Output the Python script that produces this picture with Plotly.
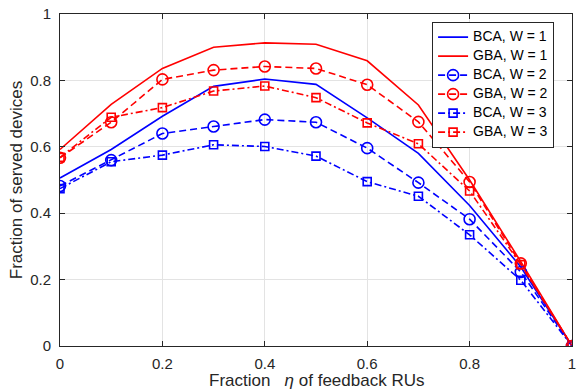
import plotly.graph_objects as go

eta = [0, 0.1, 0.2, 0.3, 0.4, 0.5, 0.6, 0.7, 0.8, 0.9, 1.0]

bca_w1 = [0.506, 0.592, 0.692, 0.782, 0.804, 0.788, 0.687, 0.580, 0.423, 0.238, 0.0]
gba_w1 = [0.592, 0.728, 0.836, 0.900, 0.913, 0.909, 0.859, 0.726, 0.500, 0.254, 0.0]
bca_w2 = [0.482, 0.560, 0.640, 0.661, 0.682, 0.674, 0.596, 0.492, 0.382, 0.223, 0.0]
gba_w2 = [0.567, 0.674, 0.803, 0.831, 0.842, 0.836, 0.787, 0.675, 0.494, 0.249, 0.0]
bca_w3 = [0.474, 0.555, 0.575, 0.606, 0.601, 0.572, 0.495, 0.451, 0.335, 0.198, 0.0]
gba_w3 = [0.568, 0.689, 0.718, 0.768, 0.783, 0.748, 0.672, 0.609, 0.467, 0.245, 0.0]

x_ticks = [0, 0.2, 0.4, 0.6, 0.8, 1]
x_tick_labels = ["0", "0.2", "0.4", "0.6", "0.8", "1"]
y_ticks = [0, 0.2, 0.4, 0.6, 0.8, 1]
y_tick_labels = ["0", "0.2", "0.4", "0.6", "0.8", "1"]

x_title = "Fraction\u00a0\u00a0\u00a0<i>\u03b7</i> of feedback RUs"
y_title = "Fraction of served devices"

BLUE = "#0000ff"
RED = "#ff0000"
DASH = "7px,4px"
DASHDOT = "7px,3px,2px,3px"

series = [
    ("BCA, W = 1", bca_w1, BLUE, "solid", None, 0),
    ("GBA, W = 1", gba_w1, RED, "solid", None, 0),
    ("BCA, W = 2", bca_w2, BLUE, DASH, "circle-open", 11),
    ("GBA, W = 2", gba_w2, RED, DASH, "circle-open", 11),
    ("BCA, W = 3", bca_w3, BLUE, DASHDOT, "square-open", 8),
    ("GBA, W = 3", gba_w3, RED, DASHDOT, "square-open", 8),
]

fig = go.Figure()
for name, ys, color, dash, sym, size in series:
    label = '<span style="font-size:14px">' + name + '</span>'
    if sym is None:
        fig.add_trace(go.Scatter(x=eta, y=ys, name=label, mode="lines",
                                 line=dict(color=color, width=1.6, dash=dash)))
    else:
        fig.add_trace(go.Scatter(x=eta, y=ys, name=label, mode="lines+markers",
                                 line=dict(color=color, width=1.6, dash=dash),
                                 marker=dict(symbol=sym, size=size, color=color,
                                             line=dict(color=color, width=1.6))))

axis_common = dict(
    showgrid=True, gridcolor="#e3e3e3", gridwidth=1,
    showline=True, linecolor="#262626", linewidth=1, mirror="ticks",
    ticks="inside", ticklen=5, tickcolor="#262626", tickwidth=1,
    zeroline=False, ticklabeloverflow="allow",
    tickfont=dict(family="Liberation Sans, Arial, sans-serif", size=15, color="#262626"),
)

fig.update_layout(
    width=581, height=390,
    margin=dict(l=60, r=5, t=5, b=44),
    paper_bgcolor="white", plot_bgcolor="white",
    font=dict(family="Liberation Sans, Arial, sans-serif", color="#262626"),
    xaxis=dict(range=[0, 1], tickvals=x_ticks, ticktext=x_tick_labels,
               ticklabelstandoff=4, **axis_common),
    yaxis=dict(range=[0, 1], tickvals=y_ticks, ticktext=y_tick_labels,
               ticklabelstandoff=5,
               title=dict(text=y_title,
                          font=dict(size=17, color="#262626"), standoff=3),
               **axis_common),
    legend=dict(x=0.965, xanchor="right", y=0.977, yanchor="top",
                bgcolor="white", bordercolor="#262626", borderwidth=1,
                font=dict(size=11, color="#000000"),
                tracegroupgap=0, itemwidth=30),
    showlegend=True,
    annotations=[dict(text=x_title, xref="paper", yref="paper", x=0.5, y=-0.103,
                      xanchor="center", yanchor="middle", showarrow=False,
                      font=dict(size=17, color="#262626"))],
)

fig.write_html("out.html")
